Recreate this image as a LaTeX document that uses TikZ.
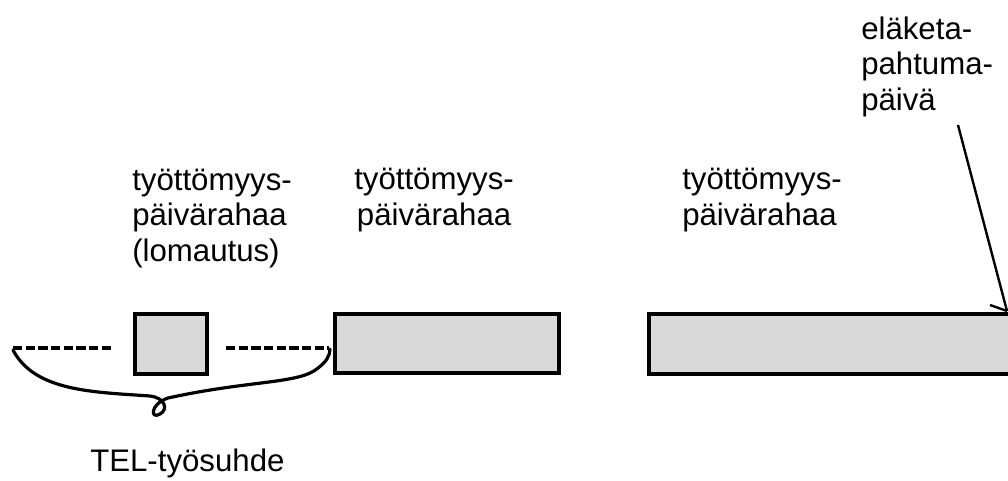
\documentclass[tikz,border=0pt]{standalone}
\usepackage{fontspec}
\setmainfont{Liberation Sans}
\begin{document}
\begin{tikzpicture}[x=0.75pt,y=-0.75pt,
  lbl/.style={font=\fontsize{23.4}{26.4}\selectfont, align=left, inner sep=0pt, anchor=base west},
  bar/.style={fill=black!15, draw=black, line width=2.6pt},
  dashline/.style={line width=2.3pt, dash pattern=on 7pt off 2.5pt},
  hand/.style={line width=2.4pt, line cap=round, line join=round}]
\useasboundingbox (0,0) rectangle (1008,480);

% labels (anchor = baseline of the last line)
\node[lbl] (l1) at (132,261) {työttömyys-\\päivärahaa\\(lomautus)};
\node[lbl] (l2) at (354,225) {työttömyys-\\\hspace*{2pt}päivärahaa};
\node[lbl] (l3) at (682,225) {työttömyys-\\päivärahaa};
\node[lbl] (l4) at (861,110) {eläketa-\\pahtuma-\\päivä};
\node[lbl] (tel) at (90,471) {TEL-työsuhde};

% bars
\draw[bar] (135,314) rectangle (207,374);
\draw[bar] (335,314) rectangle (559,373);
\fill[black!15] (649,314) rectangle (1010,374);
\draw[line width=2.6pt] (1010,314) -- (649,314) -- (649,374) -- (1010,374);

% dashed lines
\coordinate (dl1) at (13,348);
\coordinate (dl2) at (112,348);
\coordinate (dr1) at (226,348);
\coordinate (dr2) at (329,348);
\draw[dashline] (dl1) -- (dl2);
\draw[dashline] (dr1) -- (dr2);

% hand-drawn brace
\draw[hand] (13,350) .. controls (35,392) and (95,392) .. (150,396)
  .. controls (166,398) and (168,410) .. (160,414)
  .. controls (150,420) and (150,404) .. (168,398)
  .. controls (250,380) and (300,384) .. (318,368)
  .. controls (326,362) and (330,356) .. (330,349);

% pointer to pension date
\coordinate (p0) at (958,125);
\coordinate (p1) at (1007,311);
\coordinate (pb) at (990,305);
\draw[line width=1.8pt] (p0) -- (p1);
\draw[line width=1.8pt] (pb) -- (p1);
\end{tikzpicture}
\end{document}
